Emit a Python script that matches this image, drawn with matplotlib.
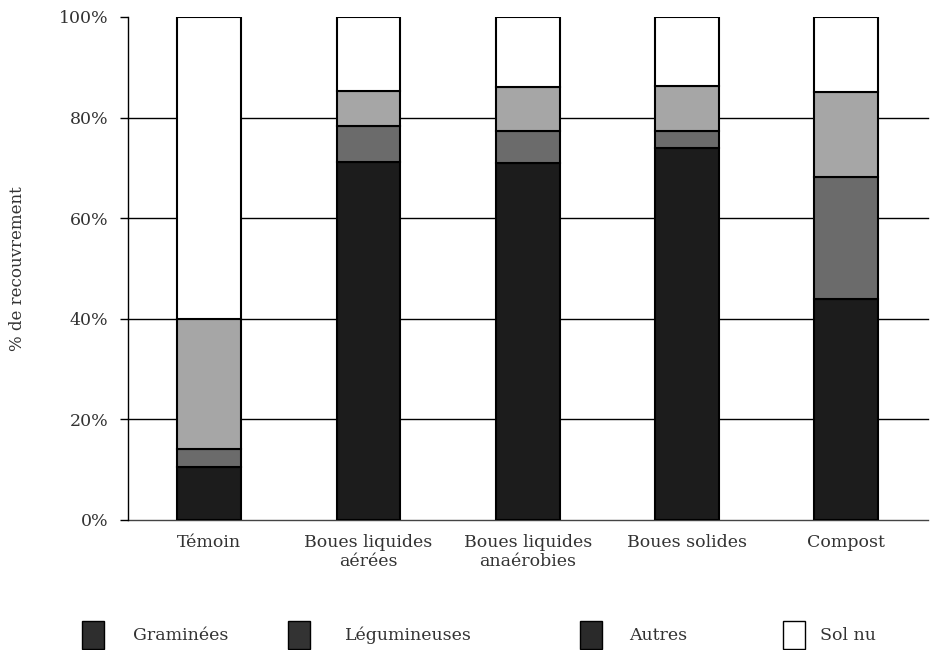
import numpy as np
import matplotlib.pyplot as plt
from matplotlib.patches import Rectangle

categories = ["Témoin", "Boues liquides\naérées", "Boues liquides\nanaérobies",
              "Boues solides", "Compost"]
graminees = [10.5, 71.2, 71.0, 74.0, 43.9]
legumineuses = [3.6, 7.1, 6.3, 3.3, 24.3]
autres = [25.9, 7.0, 8.8, 9.0, 16.9]
sol_nu = [60.0, 14.7, 13.9, 13.7, 14.9]

series = [graminees, legumineuses, autres, sol_nu]
colors = ["#1c1c1c", "#6b6b6b", "#a6a6a6", "#ffffff"]
legend_names = ["Graminées", "Légumineuses", "Autres", "Sol nu"]
legend_colors = ["#2e2e2e", "#333333", "#2a2a2a", "#ffffff"]

plt.rcParams["font.family"] = ["DejaVu Serif"]
txt = "#333333"

fig = plt.figure(figsize=(9.3, 6.5), dpi=100)
ax = fig.add_axes([0.1376, 0.2, 0.8604, 0.774])

x = np.arange(len(categories))
bottom = np.zeros(len(categories))
for vals, c in zip(series, colors):
    ax.bar(x, vals, 0.4, bottom=bottom, color=c, edgecolor="black",
           linewidth=1.5, zorder=3)
    bottom += np.array(vals)

ax.set_xlim(-0.51, 4.515)
ax.set_ylim(0, 100)
ax.set_yticks([0, 20, 40, 60, 80, 100])
ax.set_yticklabels(["0%", "20%", "40%", "60%", "80%", "100%"])
ax.set_xticks(x)
ax.set_xticklabels(categories)
for yv in [0, 20, 40, 60, 80]:
    ax.axhline(yv, color="black" if yv else "#444444", linewidth=1.0,
               zorder=1, clip_on=False)
for s in ["top", "right", "bottom"]:
    ax.spines[s].set_visible(False)
ax.spines["left"].set_linewidth(1.0)
ax.tick_params(axis="y", length=6, width=1.0, labelsize=12.5, labelcolor=txt, pad=8)
ax.tick_params(axis="x", length=0, labelsize=12.5, labelcolor=txt, pad=10)
ax.set_ylabel("% de recouvrement", fontsize=12, color=txt)
ax.yaxis.set_label_coords(-0.128, 0.5)

# legend row
xs = [82, 288, 580, 783]
text_x = [133, 345, 629, 820]
for xp, tx, name, c in zip(xs, text_x, legend_names, legend_colors):
    fig.add_artist(Rectangle((xp / 930, (650 - 649) / 650), 22 / 930, 28 / 650,
                             facecolor=c, edgecolor="black", linewidth=1.0,
                             transform=fig.transFigure))
    fig.text(tx / 930, (650 - 635) / 650, name, fontsize=12.5, color=txt,
             va="center", ha="left")

fig.savefig("out.png", dpi=100)
